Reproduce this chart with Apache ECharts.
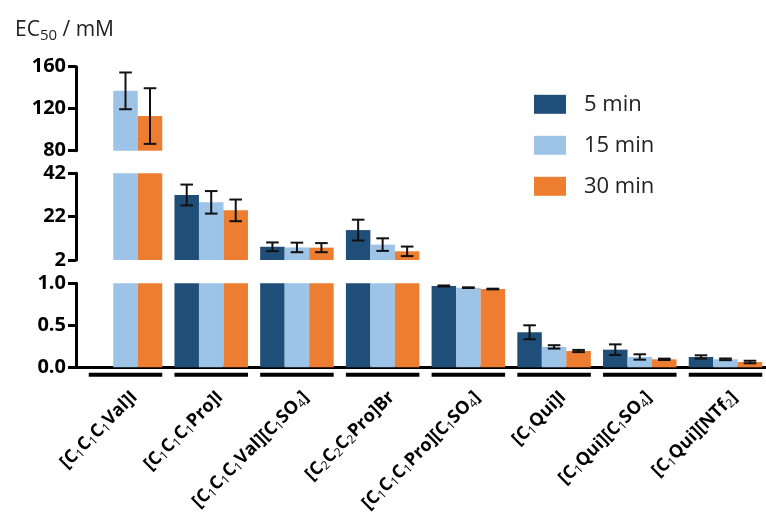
<!DOCTYPE html>
<html>
<head>
<meta charset="utf-8">
<script src="https://cdn.jsdelivr.net/npm/echarts@6/dist/echarts.min.js"></script>
<style>
html,body{margin:0;padding:0;background:#fff;}
#c{width:766px;height:522px;}
</style>
</head>
<body>
<div id="c"></div>
<script>
// ---- data ----
const categories = [
  '[C{s|1}C{s|1}C{s|1}Val]I',
  '[C{s|1}C{s|1}C{s|1}Pro]I',
  '[C{s|1}C{s|1}C{s|1}Val][C{s|1}SO{s|4}]',
  '[C{s|2}C{s|2}C{s|2}Pro]Br',
  '[C{s|1}C{s|1}C{s|1}Pro][C{s|1}SO{s|4}]',
  '[C{s|1}Qui]I',
  '[C{s|1}Qui][C{s|1}SO{s|4}]',
  '[C{s|1}Qui][NTf{s|2}]'
];
const seriesNames = ['5 min', '15 min', '30 min'];
const mean5  = [null, 32.0, 8.1, 15.8, 0.968, 0.417, 0.210, 0.123];
const err5   = [null, 4.8, 2.0, 4.8, 0.006, 0.083, 0.063, 0.020];
const mean15 = [137, 28.6, 7.8, 9.1, 0.948, 0.243, 0.123, 0.095];
const err15  = [17.5, 5.2, 2.2, 2.9, 0.004, 0.020, 0.032, 0.010];
const mean30 = [113, 24.9, 7.7, 6.0, 0.932, 0.194, 0.095, 0.063];
const err30  = [26.5, 5.0, 2.1, 2.2, 0.004, 0.013, 0.008, 0.015];
// axis segments (bottom, middle, top): min, max, tick interval
const segMin = [0, 2, 80];
const segMax = [1, 42, 160];
const segInterval = [0.5, 20, 40];

// ---- layout / style ----
const FONT = 'Open Sans';
const colors = ['#1F4E79', '#9DC3E6', '#ED7D31'];
const BAND = 600 / 7;
const BAR = 24.5;
const AXIS_X = 76;
const gridLeft = 125.5 - BAND / 2;
const gridWidth = BAND * 8;
const segTop = [283.3, 173.3, 66.7];
const segHeight = [84, 86.7, 84];

const means = [mean5, mean15, mean30];
const errs = [err5, err15, err30];

const grids = [];
const xAxes = [];
const yAxes = [];
const series = [];

for (let g = 0; g < 3; g++) {
  grids.push({left: gridLeft, width: gridWidth, top: segTop[g], height: segHeight[g], outerBoundsMode: 'none', containLabel: false});
  xAxes.push({type: 'category', gridIndex: g, data: categories, show: false});
  yAxes.push({
    type: 'value', gridIndex: g, min: segMin[g], max: segMax[g], interval: segInterval[g],
    offset: gridLeft - AXIS_X,
    axisLine: {show: true, lineStyle: {color: '#000', width: 3}},
    axisTick: {show: true, length: 8, lineStyle: {color: '#000', width: 3}},
    splitLine: {show: false},
    axisLabel: {
      color: '#000', fontFamily: FONT, fontWeight: 'bold', fontSize: 20, lineHeight: 14, margin: 10,
      formatter: g === 0 ? (v => v.toFixed(1)) : (v => String(v))
    }
  });
  for (let s = 0; s < 3; s++) {
    series.push({
      type: 'bar', name: seriesNames[s], xAxisIndex: g, yAxisIndex: g,
      data: means[s], barWidth: BAR, barGap: '0%', clip: true,
      itemStyle: {color: colors[s]}, silent: true
    });
  }
  const errData = [];
  for (let s = 0; s < 3; s++) {
    for (let i = 0; i < categories.length; i++) {
      if (means[s][i] != null) errData.push([i, s, means[s][i], errs[s][i]]);
    }
  }
  series.push({
    type: 'custom', xAxisIndex: g, yAxisIndex: g, data: errData, clip: false, silent: true, z: 5,
    encode: {x: 0, y: 2},
    renderItem: (function (gi) {
      return function (params, api) {
        const i = api.value(0), s = api.value(1), m = api.value(2), e = api.value(3);
        const lo = segMin[gi], hi = segMax[gi];
        if (m < lo || m > hi) return null;
        const top = Math.min(m + e, hi), bot = Math.max(m - e, lo);
        const cx = api.coord([i, m])[0] + (s - 1) * BAR;
        const yT = api.coord([i, top])[1];
        const yB = api.coord([i, bot])[1];
        const st = {stroke: '#111', lineWidth: 2};
        const ch = [{type: 'line', shape: {x1: cx, y1: yT, x2: cx, y2: yB}, style: st}];
        if (m + e <= hi) ch.push({type: 'line', shape: {x1: cx - 6.3, y1: yT, x2: cx + 6.3, y2: yT}, style: st});
        if (m - e >= lo) ch.push({type: 'line', shape: {x1: cx - 6.3, y1: yB, x2: cx + 6.3, y2: yB}, style: st});
        return {type: 'group', children: ch};
      };
    })(g)
  });
}

// group underline marks and rotated category labels (in bottom grid)
series.push({
  type: 'custom', xAxisIndex: 0, yAxisIndex: 0, clip: false, silent: true,
  data: categories.map((c, i) => [i, 0]), encode: {x: 0, y: 1},
  renderItem: function (params, api) {
    const idx = api.value(0);
    const p = api.coord([idx, 0]);
    return {
      type: 'group',
      children: [
        {type: 'rect', shape: {x: p[0] - 1.5 * BAR, y: p[1] + 5.5, width: 3 * BAR, height: 4}, style: {fill: '#000'}},
        {
          type: 'group', x: p[0] + 9, y: p[1] + 27, rotation: Math.PI / 4,
          children: [{
            type: 'text', x: 0, y: 0,
            style: {
              text: categories[idx], align: 'right', verticalAlign: 'middle',
              fill: '#000', fontFamily: FONT, fontWeight: 'bold', fontSize: 18, lineHeight: 20,
              rich: {s: {fontSize: 12, fontWeight: 'normal', fontFamily: FONT, fill: '#000', lineHeight: 12, verticalAlign: 'bottom'}}
            }
          }]
        }
      ]
    };
  }
});

// grid 3: baseline axis line from y-axis to right edge
grids.push({left: AXIS_X, right: 0, top: segTop[0], height: segHeight[0], outerBoundsMode: 'none', containLabel: false});
xAxes.push({type: 'value', gridIndex: 3, axisLine: {show: true, onZero: false, lineStyle: {color: '#000', width: 3}},
  axisTick: {show: false}, axisLabel: {show: false}, splitLine: {show: false}});
yAxes.push({type: 'value', gridIndex: 3, show: false});

const option = {
  backgroundColor: '#fff',
  animation: false,
  title: {
    text: '{a|EC}{s|50}{a| / mM}', left: 10, top: 12,
    textStyle: {
      fontWeight: 'normal',
      rich: {
        a: {fontSize: 21, fontFamily: FONT, fontWeight: 'normal', color: '#222', lineHeight: 26},
        s: {fontSize: 15, fontFamily: FONT, fontWeight: 'normal', color: '#222', lineHeight: 18, verticalAlign: 'bottom'}
      }
    }
  },
  legend: {
    data: seriesNames, orient: 'vertical', left: 534, top: 93.3, padding: 0,
    icon: 'rect', itemWidth: 32, itemHeight: 19, itemGap: 19,
    textStyle: {fontFamily: FONT, fontSize: 22, color: '#222', lineHeight: 19, padding: [0, 0, 0, 13]},
    selectedMode: false
  },
  grid: grids,
  xAxis: xAxes,
  yAxis: yAxes,
  series: series
};

const chart = echarts.init(document.getElementById('c'), null, {renderer: 'canvas'});
chart.setOption(option);
</script>
</body>
</html>
